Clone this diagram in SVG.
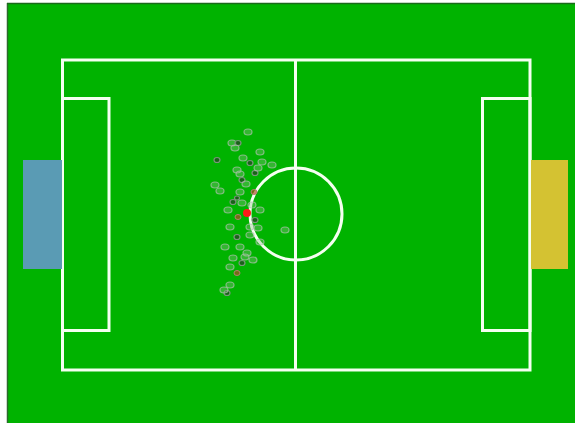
<svg xmlns="http://www.w3.org/2000/svg" width="575" height="423" viewBox="0 0 575 423">
<style>
.ln{fill:none;stroke:#f4fff0;stroke-width:3}
.p{fill:#8fbf8a;fill-opacity:0.35;stroke:#b0c0b0;stroke-width:1.2;stroke-opacity:0.7}
.d{fill:#1f4a1f;fill-opacity:0.75;stroke:#7a957a;stroke-width:1.2}
.r{fill:#b04a20;fill-opacity:0.65;stroke:#b08070;stroke-width:1}
</style>
<rect x="0" y="0" width="575" height="423" fill="#ffffff"/>
<rect x="7" y="3" width="568" height="420" fill="#00b300"/>
<line x1="7.5" y1="3" x2="7.5" y2="423" stroke="#2d6a2d" stroke-width="1.5"/>
<line x1="7" y1="3.5" x2="575" y2="3.5" stroke="#1a6a1a" stroke-width="1.5"/>
<g id="lines">
<rect class="ln" x="62.5" y="60" width="467.5" height="310"/>
<line class="ln" x1="295.5" y1="60" x2="295.5" y2="370"/>
<circle class="ln" cx="296" cy="214" r="46"/>
<rect class="ln" x="62.5" y="98.5" width="46.5" height="232"/>
<rect class="ln" x="482.5" y="98.5" width="47.5" height="232"/>
</g>
<g id="goal-left"><rect x="23" y="160" width="39" height="109" fill="#5a9bb4"/></g>
<g id="goal-right"><rect x="531" y="160" width="37" height="109" fill="#d4c232"/></g>
<g id="particles">
<ellipse class="p" cx="248" cy="132" rx="4" ry="3"/>
<ellipse class="p" cx="232" cy="143" rx="4" ry="3"/>
<ellipse class="d" cx="238" cy="143" rx="3" ry="2.5"/>
<ellipse class="p" cx="235" cy="148" rx="4" ry="3"/>
<ellipse class="p" cx="260" cy="152" rx="4" ry="3"/>
<ellipse class="d" cx="217" cy="160" rx="3" ry="2.5"/>
<ellipse class="p" cx="243" cy="158" rx="4" ry="3"/>
<ellipse class="d" cx="250" cy="163" rx="3" ry="2.5"/>
<ellipse class="p" cx="262" cy="162" rx="4" ry="3"/>
<ellipse class="p" cx="272" cy="165" rx="4" ry="3"/>
<ellipse class="p" cx="237" cy="170" rx="4" ry="3"/>
<ellipse class="p" cx="240" cy="174" rx="4" ry="3"/>
<ellipse class="d" cx="255" cy="173" rx="3" ry="2.5"/>
<ellipse class="p" cx="258" cy="168" rx="4" ry="3"/>
<ellipse class="d" cx="242" cy="180" rx="3" ry="2.5"/>
<ellipse class="p" cx="246" cy="184" rx="4" ry="3"/>
<ellipse class="p" cx="215" cy="185" rx="4" ry="3"/>
<ellipse class="p" cx="220" cy="191" rx="4" ry="3"/>
<ellipse class="p" cx="240" cy="192" rx="4" ry="3"/>
<ellipse class="r" cx="254" cy="192" rx="3" ry="2.5"/>
<ellipse class="d" cx="233" cy="202" rx="3" ry="2.5"/>
<ellipse class="d" cx="237" cy="198" rx="2.5" ry="2"/>
<ellipse class="p" cx="242" cy="203" rx="4" ry="3"/>
<ellipse class="p" cx="260" cy="210" rx="4" ry="3"/>
<ellipse class="r" cx="238" cy="217" rx="3" ry="2.5"/>
<ellipse class="d" cx="255" cy="220" rx="3" ry="2.5"/>
<ellipse class="p" cx="230" cy="227" rx="4" ry="3"/>
<ellipse class="p" cx="250" cy="227" rx="4" ry="3"/>
<ellipse class="p" cx="258" cy="228" rx="4" ry="3"/>
<ellipse class="d" cx="237" cy="237" rx="3" ry="2.5"/>
<ellipse class="p" cx="250" cy="235" rx="4" ry="3"/>
<ellipse class="p" cx="225" cy="247" rx="4" ry="3"/>
<ellipse class="p" cx="240" cy="247" rx="4" ry="3"/>
<ellipse class="p" cx="247" cy="253" rx="4" ry="3"/>
<ellipse class="p" cx="260" cy="242" rx="4" ry="3"/>
<ellipse class="p" cx="233" cy="258" rx="4" ry="3"/>
<ellipse class="p" cx="245" cy="257" rx="4" ry="3"/>
<ellipse class="p" cx="253" cy="260" rx="4" ry="3"/>
<ellipse class="p" cx="230" cy="267" rx="4" ry="3"/>
<ellipse class="d" cx="242" cy="263" rx="3" ry="2.5"/>
<ellipse class="r" cx="237" cy="273" rx="3" ry="2.5"/>
<ellipse class="p" cx="230" cy="285" rx="4" ry="3"/>
<ellipse class="d" cx="227" cy="293" rx="3" ry="2.5"/>
<ellipse class="p" cx="224" cy="290" rx="4" ry="3"/>
<ellipse class="p" cx="285" cy="230" rx="4" ry="3"/>
<ellipse class="p" cx="252" cy="205" rx="4" ry="3"/>
<ellipse class="p" cx="228" cy="210" rx="4" ry="3"/>
</g>
<g id="ball"><circle cx="247" cy="213" r="4" fill="#ff1a1a"/></g>
</svg>
